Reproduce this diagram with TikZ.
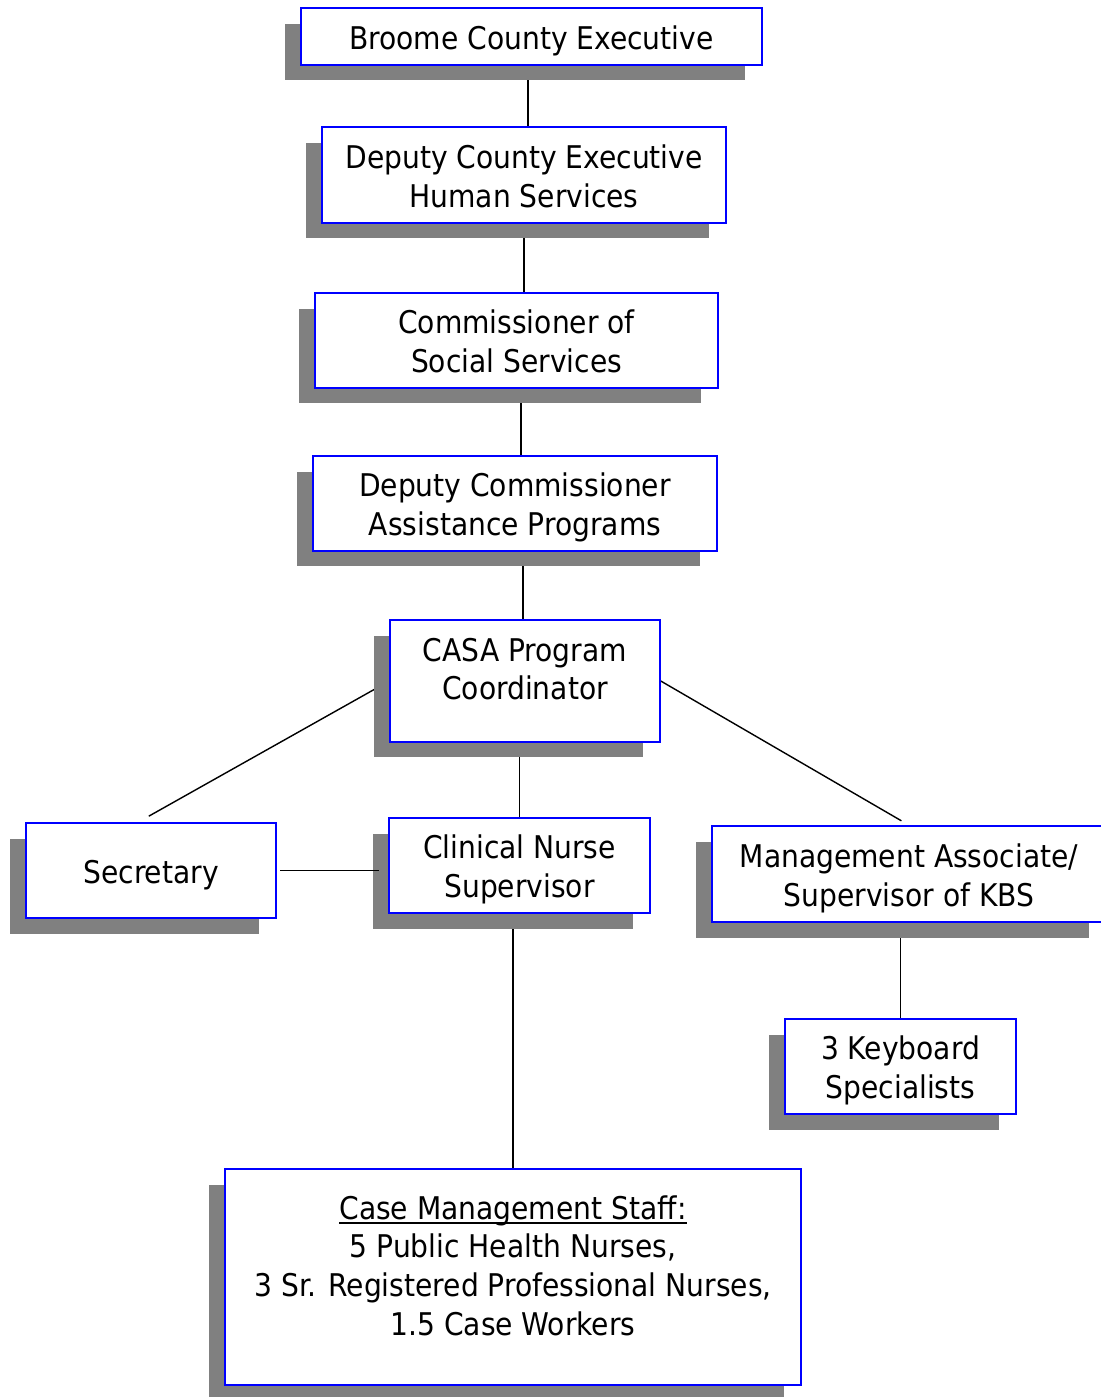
\documentclass[tikz,border=0pt]{standalone}
\usepackage{fontspec}
\setmainfont{DejaVu Sans Condensed}
\usepackage{tikz}
\usetikzlibrary{shadows,backgrounds}

\definecolor{shadowgray}{RGB}{128,128,128}
\newcommand{\ulbox}[1]{\setbox0\hbox{#1}\rlap{\rule[-2.6pt]{\wd0}{0.9pt}}\box0}

\tikzset{
  post/.style={draw=blue, line width=0.9pt, fill=white, align=center,
    inner ysep=0.15cm, text height=39.8pt, text depth=3.3pt,
    font=\fontsize{17.8}{22}\selectfont,
    drop shadow={shadow xshift=-0.33cm, shadow yshift=-0.31cm,
      fill=shadowgray, opacity=1}},
  link/.style={line width=0.8pt}
}

\begin{document}
\begin{tikzpicture}[x=0.02cm, y=-0.02cm]

\useasboundingbox (0, 0) rectangle (1101, 1397);

\node[post, minimum width=9.22cm, minimum height=1.14cm, text height=17.8pt] (exec) at (531.5, 36.5) {Broome County Executive};
\node[post, minimum width=8.08cm, minimum height=1.92cm] (dce) at (524, 175) {Deputy County Executive\\Human Services};
\node[post, minimum width=8.06cm, minimum height=1.9cm] (comm) at (516.5, 340.5) {Commissioner of\\Social Services};
\node[post, minimum width=8.08cm, minimum height=1.9cm] (dcomm) at (515, 503.5) {Deputy Commissioner\\Assistance Programs};
\node[post, minimum width=5.4cm, minimum height=2.44cm, text depth=18.4pt] (casa) at (525, 681) {CASA Program\\Coordinator};
\node[post, minimum width=5.0cm, minimum height=1.9cm, text height=17.8pt] (sec) at (151, 870.5) {Secretary};
\node[post, minimum width=5.22cm, minimum height=1.9cm] (cns) at (519.5, 865.5) {Clinical Nurse\\Supervisor};
\node[post, minimum width=7.88cm, minimum height=1.92cm] (mgmt) at (909, 874) {Management Associate/\\Supervisor of KBS};
\node[post, minimum width=4.62cm, minimum height=1.9cm] (kbs) at (900.5, 1066.5) {3 Keyboard\\Specialists};
\node[post, minimum width=11.52cm, minimum height=4.32cm, text height=83.8pt, text depth=17.6pt] (staff) at (513, 1277) {\ulbox{Case Management Staff:}\\5 Public Health Nurses,\\3 Sr. Registered Professional Nurses,\\1.5 Case Workers};

\begin{scope}[on background layer]
\draw[link] ([xshift=-0.07cm]exec.south) -- ([xshift=-0.07cm]exec.south |- dce.north);
\draw[link] (dce.south) -- (dce.south |- comm.north);
\draw[link] ([xshift=0.09cm]comm.south) -- ([xshift=0.09cm]comm.south |- dcomm.north);
\draw[link] ([xshift=-0.04cm]casa.north) -- ([xshift=-0.04cm]casa.north |- dcomm.south);
\draw[link] (cns.north) -- (cns.north |- casa.south);
\draw[link] (staff.north) -- (staff.north |- cns.south);
\draw[link] (kbs.north) -- (kbs.north |- mgmt.south);
\draw[link, shorten >=7pt] (casa.west) -- (sec.105);
\draw[link, shorten >=5pt] (casa.east) -- (mgmt.north);
\end{scope}
\draw[link, shorten <=2pt, shorten >=0.18cm] (sec.east) -- (sec.east -| cns.west);

\end{tikzpicture}
\end{document}
